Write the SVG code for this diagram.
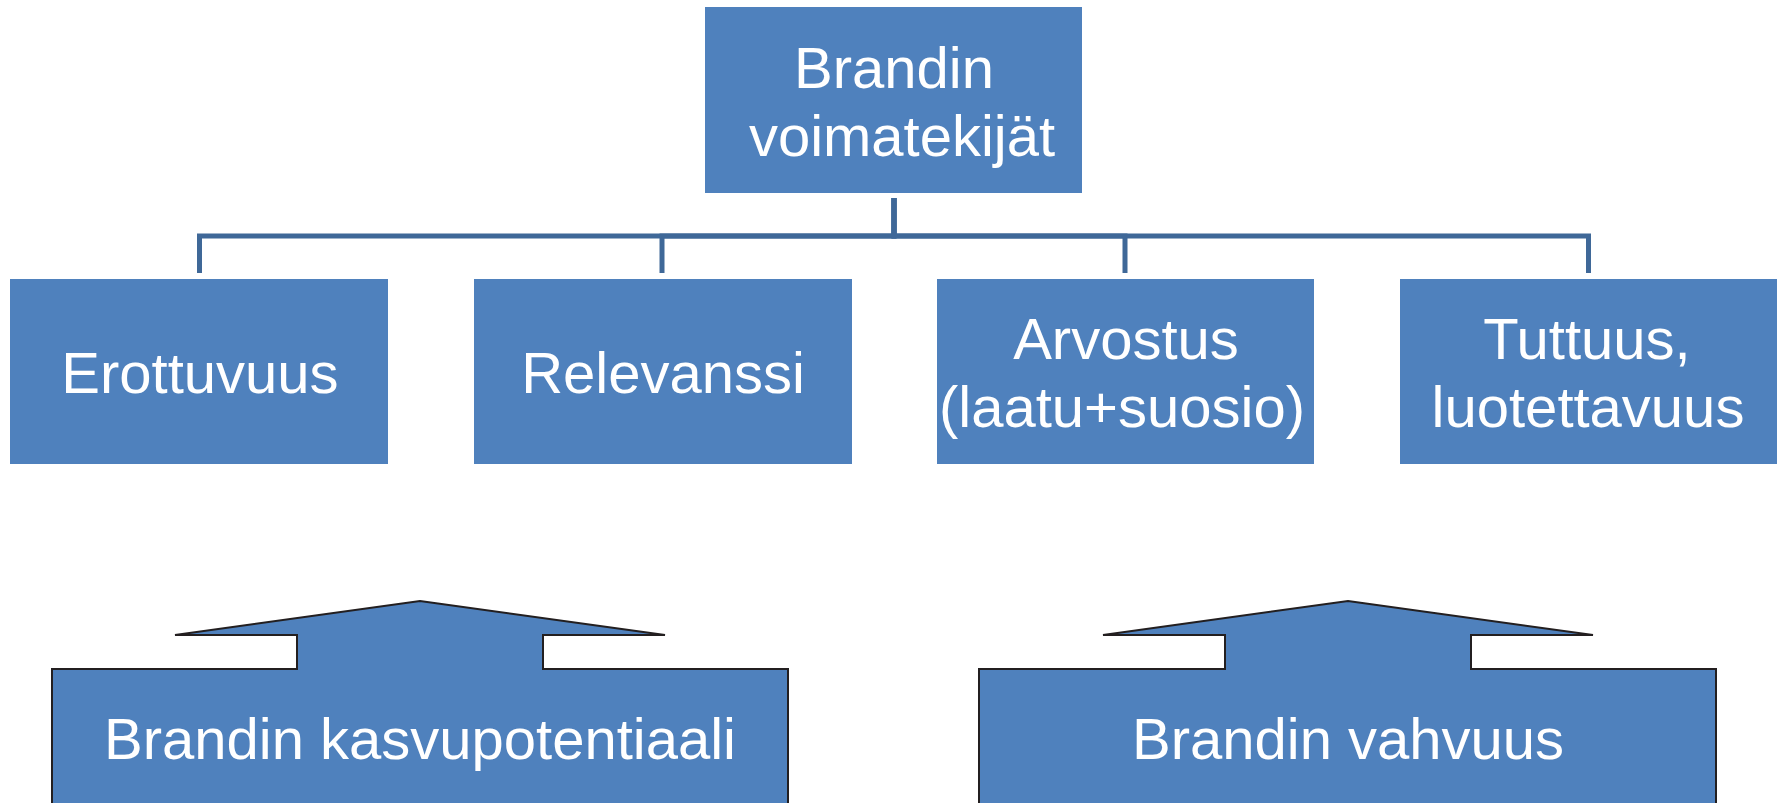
<svg xmlns="http://www.w3.org/2000/svg" width="1785" height="803" viewBox="0 0 1785 803">
  <style>
    .box { fill: #4F81BD; }
    .arrowbox { fill: #4F81BD; stroke: #231F20; stroke-width: 2; stroke-linejoin: miter; }
    .conn { fill: none; stroke: #3F6898; stroke-width: 5; stroke-linejoin: miter; }
    .lbl { font-family: "Liberation Sans", Arial, sans-serif; font-size: 58px; fill: #FFFFFF; text-anchor: middle; }
  </style>
  <rect width="1785" height="803" fill="#FFFFFF"/>
  <g id="connectors">
    <path class="conn" d="M894,198 V236 H199.5 V273"/>
    <path class="conn" d="M894,198 V236 H662 V273"/>
    <path class="conn" d="M894,198 V236 H1125 V273"/>
    <path class="conn" d="M894,198 V236 H1588.5 V273"/>
  </g>
  <g id="node-root">
    <rect class="box" x="705" y="7" width="377" height="186"/>
    <text class="lbl" x="894" y="88">Brandin</text>
    <text class="lbl" x="902" y="156">voimatekijät</text>
  </g>
  <g id="node-erottuvuus">
    <rect class="box" x="10" y="279" width="378" height="185"/>
    <text class="lbl" x="200" y="393">Erottuvuus</text>
  </g>
  <g id="node-relevanssi">
    <rect class="box" x="474" y="279" width="378" height="185"/>
    <text class="lbl" x="663" y="393">Relevanssi</text>
  </g>
  <g id="node-arvostus">
    <rect class="box" x="937" y="279" width="377" height="185"/>
    <text class="lbl" x="1126" y="359">Arvostus</text>
    <text class="lbl" x="1122" y="427">(laatu+suosio)</text>
  </g>
  <g id="node-tuttuus">
    <rect class="box" x="1400" y="279" width="377" height="185"/>
    <text class="lbl" x="1587" y="359">Tuttuus,</text>
    <text class="lbl" x="1588" y="427">luotettavuus</text>
  </g>
  <g id="node-kasvupotentiaali">
    <path class="arrowbox" d="M52,815 V669 H297 V635 H175 L420,601 L665,635 H543 V669 H788 V815 Z"/>
    <text class="lbl" x="420" y="759">Brandin kasvupotentiaali</text>
  </g>
  <g id="node-vahvuus">
    <path class="arrowbox" d="M979,815 V669 H1225 V635 H1103 L1348,601 L1593,635 H1471 V669 H1716 V815 Z"/>
    <text class="lbl" x="1348" y="759">Brandin vahvuus</text>
  </g>
</svg>
